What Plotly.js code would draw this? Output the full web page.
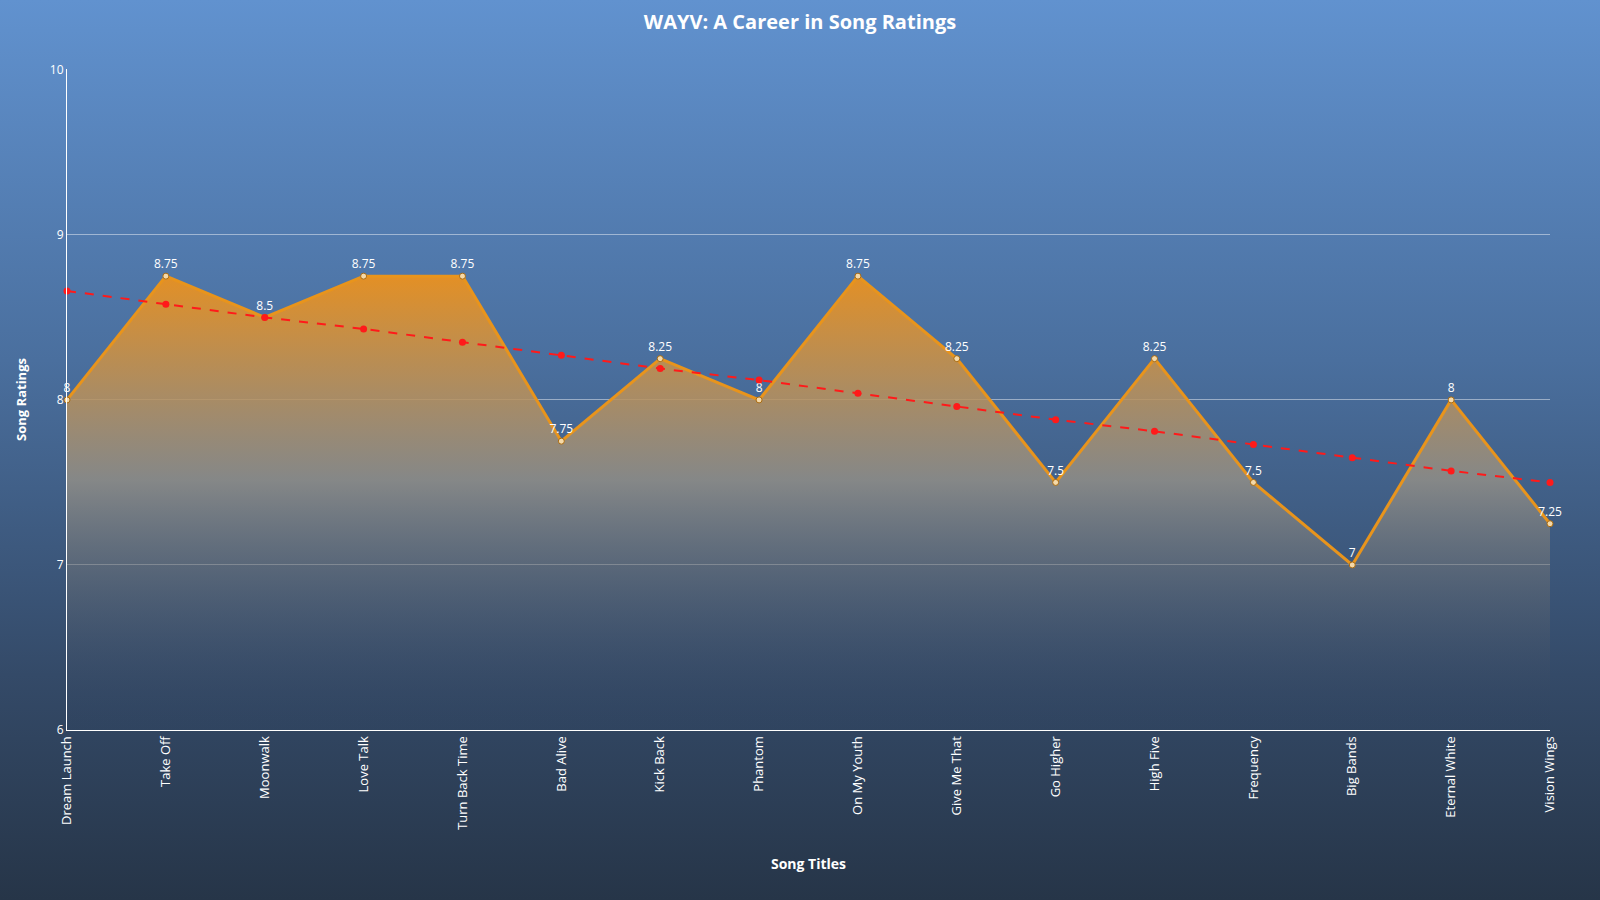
<!DOCTYPE html>
<html>
<head>
<meta charset="utf-8">
<script src="https://cdn.plot.ly/plotly-3.0.1.min.js"></script>
<style>
  html, body { margin: 0; padding: 0; }
  body { width: 1600px; height: 900px; background: linear-gradient(to bottom, #6192cf 0%, #4a6f9e 40%, #344a68 75%, #263548 100%); }
  #chart { width: 1600px; height: 900px; }
</style>
</head>
<body>
<div id="chart"></div>
<script>
const songs = ['Dream Launch', 'Take Off', 'Moonwalk', 'Love Talk', 'Turn Back Time', 'Bad Alive',
  'Kick Back', 'Phantom', 'On My Youth', 'Give Me That', 'Go Higher', 'High Five', 'Frequency',
  'Big Bands', 'Eternal White', 'Vision Wings'];
const ratings = [8, 8.75, 8.5, 8.75, 8.75, 7.75, 8.25, 8, 8.75, 8.25, 7.5, 8.25, 7.5, 7, 8, 7.25];
const trend = [8.66, 8.58, 8.5, 8.43, 8.35, 8.27, 8.19, 8.12, 8.04, 7.96, 7.88, 7.81, 7.73, 7.65, 7.57, 7.5];
const baseline = songs.map(() => 6);

const base = {
  x: songs,
  y: baseline,
  type: 'scatter',
  mode: 'lines',
  line: {width: 0},
  hoverinfo: 'skip'
};

const area = {
  x: songs,
  y: ratings,
  type: 'scatter',
  mode: 'lines+markers+text',
  fill: 'tonexty',
  fillgradient: {
    type: 'vertical',
    colorscale: [[0, 'rgba(40,60,90,0.1)'], [0.55, 'rgba(150,145,135,0.8)'], [1, 'rgba(235,145,30,0.95)']]
  },
  line: {color: '#e8941c', width: 3},
  marker: {color: '#f5d9a8', size: 6, line: {color: '#a86a10', width: 1}},
  text: ratings.map(String),
  textposition: 'top center',
  textfont: {color: 'white', size: 12, family: 'Open Sans, sans-serif'},
  cliponaxis: false,
  hoverinfo: 'x+y'
};

const trendTrace = {
  x: songs,
  y: trend,
  type: 'scatter',
  mode: 'lines+markers',
  line: {color: '#ff1a1a', width: 2, dash: 'dash'},
  marker: {color: '#ff1a1a', size: 7},
  cliponaxis: false
};

const layout = {
  width: 1600,
  height: 900,
  paper_bgcolor: 'rgba(0,0,0,0)',
  plot_bgcolor: 'rgba(0,0,0,0)',
  margin: {l: 67, r: 50, t: 69, b: 170},
  showlegend: false,
  font: {family: 'Open Sans, sans-serif', color: 'white'},
  title: {text: '<b>WAYV: A Career in Song Ratings</b>', x: 0.5, y: 0.983, font: {size: 20, color: 'white'}},
  xaxis: {
    title: {text: '<b>Song Titles</b>', font: {size: 14, color: 'white'}, standoff: 30},
    tickangle: -90,
    tickfont: {size: 13, color: 'white'},
    showgrid: false,
    showline: true,
    linecolor: 'white',
    range: [0, songs.length - 1],
    zeroline: false
  },
  yaxis: {
    title: {text: '<b>Song Ratings</b>', font: {size: 13, color: 'white'}, standoff: 20},
    range: [6, 10.005],
    tickvals: [6, 7, 8, 9, 10],
    tickfont: {size: 12, color: 'white'},
    gridcolor: 'rgba(255,255,255,0.45)',
    showline: true,
    linecolor: 'white',
    zeroline: false
  }
};

Plotly.newPlot('chart', [base, area, trendTrace], layout, {displayModeBar: false});
</script>
</body>
</html>
